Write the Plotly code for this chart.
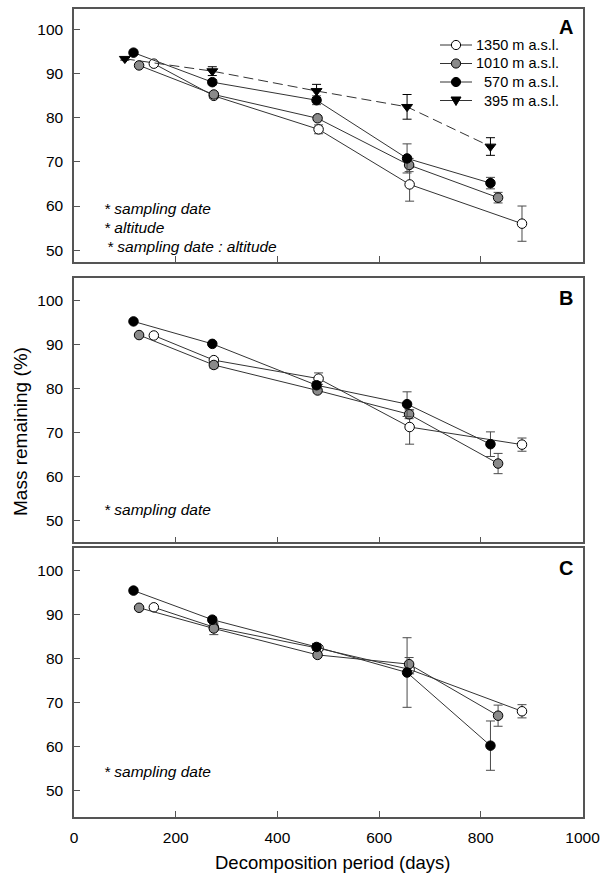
import plotly.graph_objects as go

# ---------------- data ----------------
sites = ["1350 m a.s.l.", "1010 m a.s.l.", "570 m a.s.l.", "395 m a.s.l."]

# sampling days per altitude
days_1350 = [157, 275, 481, 660, 881]
days_1010 = [128, 275, 479, 659, 834]
days_570 = [117, 272, 477, 655, 819]
days_395 = [100, 272, 477, 655, 819]

# Panel A
A_1350 = [92.3, 85.0, 77.4, 64.9, 56.0]
A_1350_err = [0.3, 0.5, 1.0, 3.8, 4.0]
A_1010 = [91.9, 85.3, 79.9, 69.3, 61.9]
A_1010_err = [0.3, 0.5, 0.5, 1.5, 1.2]
A_570 = [94.8, 88.1, 84.0, 70.8, 65.2]
A_570_err = [0.3, 0.6, 1.0, 3.3, 1.3]
A_395 = [93.4, 90.6, 86.1, 82.5, 73.5]
A_395_err = [0.3, 1.0, 1.5, 2.8, 2.0]

# Panel B
B_1350 = [92.0, 86.4, 82.2, 71.2, 67.2]
B_1350_err = [0.3, 0.5, 1.3, 3.9, 1.5]
B_1010 = [92.1, 85.3, 79.5, 74.1, 62.9]
B_1010_err = [0.3, 0.7, 0.5, 1.0, 2.3]
B_570 = [95.2, 90.1, 80.7, 76.4, 67.3]
B_570_err = [0.3, 0.3, 0.8, 2.8, 2.8]

# Panel C
C_1350 = [91.6, 87.1, 82.3, 77.5, 68.0]
C_1350_err = [0.3, 0.8, 0.5, 1.0, 1.5]
C_1010 = [91.5, 86.8, 80.8, 78.7, 67.0]
C_1010_err = [0.3, 1.4, 0.5, 1.5, 2.4]
C_570 = [95.4, 88.8, 82.6, 76.8, 60.2]
C_570_err = [0.5, 0.5, 0.8, 7.9, 5.6]

panel_notes = {
    "A": ["* sampling date", "* altitude", "* sampling date : altitude"],
    "B": ["* sampling date"],
    "C": ["* sampling date"],
}

x_ticks = [0, 200, 400, 600, 800, 1000]
y_ticks = [50, 60, 70, 80, 90, 100]

# ---------------- styles ----------------
FONT = "Liberation Sans, Arial, sans-serif"
LINE_COL = "#333333"
ERR_COL = "#4a4a4a"
styles = {
    "1350 m a.s.l.": dict(symbol="circle", color="white", dash="solid"),
    "1010 m a.s.l.": dict(symbol="circle", color="#8a8a8a", dash="solid"),
    "570 m a.s.l.": dict(symbol="circle", color="black", dash="solid"),
    "395 m a.s.l.": dict(symbol="triangle-down", color="black", dash="dash"),
}

W, H = 601, 873
x0_px, x1_px = 74, 582.5
panels_px = {"A": (9, 262), "B": (278.3, 542.3), "C": (548.3, 817)}
y_ranges = {"A": [47.3, 104.7], "B": [45.0, 105.0], "C": [44.0, 105.0]}

fig = go.Figure()

panel_data = {
    "A": [(sites[0], days_1350, A_1350, A_1350_err),
          (sites[1], days_1010, A_1010, A_1010_err),
          (sites[2], days_570, A_570, A_570_err),
          (sites[3], days_395, A_395, A_395_err)],
    "B": [(sites[0], days_1350, B_1350, B_1350_err),
          (sites[1], days_1010, B_1010, B_1010_err),
          (sites[2], days_570, B_570, B_570_err)],
    "C": [(sites[0], days_1350, C_1350, C_1350_err),
          (sites[1], days_1010, C_1010, C_1010_err),
          (sites[2], days_570, C_570, C_570_err)],
}
axis_ids = {"A": ("x", "y"), "B": ("x2", "y2"), "C": ("x3", "y3")}

for p, series in panel_data.items():
    xa, ya = axis_ids[p]
    for name, xs, ys, es in series:
        st = styles[name]
        fig.add_trace(go.Scatter(
            x=xs, y=ys, xaxis=xa, yaxis=ya, mode="lines+markers",
            name=name, showlegend=False,
            line=dict(color=LINE_COL, width=1, dash="10px,5px" if st["dash"] == "dash" else "solid"),
            marker=dict(symbol=st["symbol"], size=9.5, color=st["color"],
                        line=dict(color="black", width=1)),
            error_y=dict(type="data", array=es, visible=True,
                         color=ERR_COL if name != sites[3] else "black",
                         thickness=1, width=4.5),
        ))

def ydom(p):
    t, b = panels_px[p]
    return [1 - b / H, 1 - t / H]

xdom = [x0_px / W, x1_px / W]
axcommon = dict(showline=True, linecolor="#555555", linewidth=1.5, mirror=True,
                ticks="inside", ticklen=6, tickcolor="#555555", tickwidth=1,
                showgrid=False, zeroline=False, automargin=False,
                tickfont=dict(family=FONT, size=15.5, color="black"))

layout = dict(
    width=W, height=H, autosize=False, margin=dict(l=0, r=0, t=0, b=0, pad=0),
    paper_bgcolor="white", plot_bgcolor="white",
    font=dict(family=FONT, color="black"),
    showlegend=False,
)
for i, p in enumerate(["A", "B", "C"]):
    xk = "xaxis" if i == 0 else f"xaxis{i+1}"
    yk = "yaxis" if i == 0 else f"yaxis{i+1}"
    xa, ya = axis_ids[p]
    layout[xk] = dict(axcommon, domain=xdom, range=[0, 1000], tickvals=x_ticks,
                      showticklabels=(p == "C"), anchor=ya, ticklabelstandoff=6)
    layout[yk] = dict(axcommon, domain=ydom(p), range=y_ranges[p], tickvals=y_ticks,
                      anchor=xa, ticklabelstandoff=6)
fig.update_layout(**layout)

ann = []
shapes = []
note_pos = {"A": [(0.0545, 0.2095), (0.0545, 0.1344), (0.061, 0.0632)],
            "B": [(0.0545, 0.126)], "C": [(0.0545, 0.1675)]}
for p in ["A", "B", "C"]:
    xa, ya = axis_ids[p]
    for txt, (xx, yy) in zip(panel_notes[p], note_pos[p]):
        ann.append(dict(text=f"<i>{txt}</i>", xref=f"{xa} domain", yref=f"{ya} domain",
                        x=xx, y=yy, xanchor="left", yanchor="middle", showarrow=False,
                        font=dict(family=FONT, size=15.5, color="black")))
    ann.append(dict(text=f"<b>{p}</b>", xref=f"{xa} domain", yref=f"{ya} domain",
                    x=0.985, y=0.927, xanchor="right", yanchor="middle", showarrow=False,
                    font=dict(family=FONT, size=20, color="black")))

# manual legend (panel A, top right)
leg_y = [45, 63.5, 82, 100.5]
lx0, lx1, lxm, ltext = 440, 472, 456, 561
r = 4.6
for name, py in zip(sites, leg_y):
    st = styles[name]
    yp = 1 - py / H
    shapes.append(dict(type="line", xref="paper", yref="paper",
                       x0=lx0 / W, x1=lx1 / W, y0=yp, y1=yp,
                       line=dict(color=LINE_COL, width=1)))
    if st["symbol"] == "circle":
        shapes.append(dict(type="circle", xref="paper", yref="paper",
                           x0=(lxm - r) / W, x1=(lxm + r) / W,
                           y0=1 - (py + r) / H, y1=1 - (py - r) / H,
                           fillcolor=st["color"], line=dict(color="black", width=1)))
    else:
        path = (f"M {(lxm - 5) / W},{1 - (py - 3.5) / H} "
                f"L {(lxm + 5) / W},{1 - (py - 3.5) / H} "
                f"L {lxm / W},{1 - (py + 5) / H} Z")
        shapes.append(dict(type="path", xref="paper", yref="paper", path=path,
                           fillcolor="black", line=dict(color="black", width=1)))
    ann.append(dict(text=name, xref="paper", yref="paper", x=ltext / W, y=yp,
                    xanchor="right", yanchor="middle", showarrow=False,
                    font=dict(family=FONT, size=14.5, color="black")))

ann.append(dict(text="Decomposition period (days)", xref="paper", yref="paper",
                x=332 / W, y=1 - 862 / H, xanchor="center", yanchor="middle", showarrow=False,
                font=dict(family=FONT, size=18.5, color="black")))
ann.append(dict(text="Mass remaining (%)", xref="paper", yref="paper",
                x=20 / W, y=1 - 432 / H, xanchor="center", yanchor="middle", showarrow=False,
                textangle=-90, font=dict(family=FONT, size=19, color="black")))
fig.update_layout(annotations=ann, shapes=shapes)

fig.write_html("out.html", config={"responsive": False, "displayModeBar": False},
               post_script="document.body.style.margin='0';document.body.style.padding='0';"
                           "document.body.style.overflow='hidden';")
